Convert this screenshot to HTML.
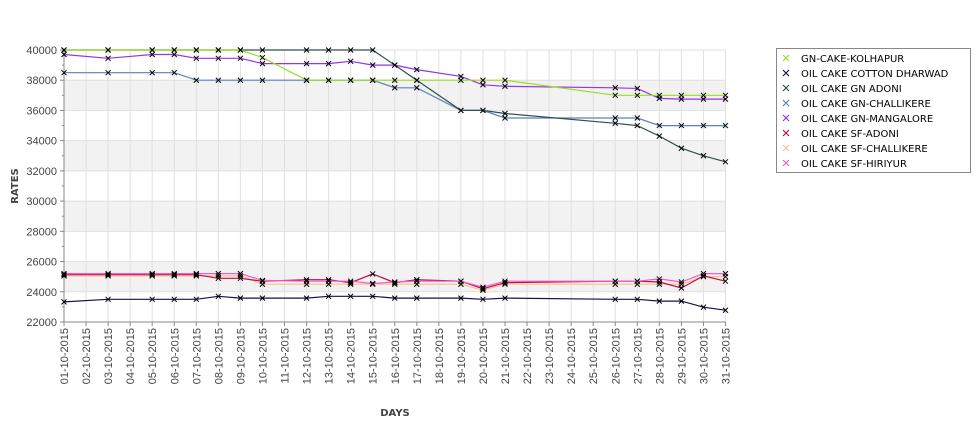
<!DOCTYPE html>
<html><head><meta charset="utf-8"><style>
body{margin:0;background:#fff;}
svg{display:block;font-family:"Liberation Sans",sans-serif;}
</style></head><body>
<svg id="c" width="975" height="429" xmlns="http://www.w3.org/2000/svg"></svg>
<script>
const S=document.getElementById('c');
let h='';
const X0=64,X1=725.5,dx=(X1-X0)/30;
const Y=v=>50+(40000-v)*272/18000;
const X=d=>X0+d*dx;
[[38000,36000],[34000,32000],[30000,28000],[26000,24000]].forEach(b=>{h+=`<rect x="${X0}" y="${Y(b[0])}" width="${X1-X0}" height="${Y(b[1])-Y(b[0])}" fill="#f2f2f2"/>`;});
for(let v=22000;v<=40000;v+=2000){h+=`<line x1="${X0}" x2="${X1}" y1="${Y(v)}" y2="${Y(v)}" stroke="#e0e0e0"/>`;
h+=`<text x="57" y="${Y(v)+4}" font-size="11" fill="#444" text-anchor="end">${v}</text>`;h+=`<line x1="60" x2="64" y1="${Y(v)}" y2="${Y(v)}" stroke="#888"/>`;}
for(let v=23000;v<40000;v+=2000)h+=`<line x1="62" x2="64" y1="${Y(v)}" y2="${Y(v)}" stroke="#888"/>`;
for(let d=0;d<=30;d++){const x=X(d);h+=`<line x1="${x}" x2="${x}" y1="50" y2="322" stroke="#e0e0e0"/>`;
h+=`<line x1="${x}" x2="${x}" y1="322" y2="326" stroke="#888"/>`;
const lab=String(d+1).padStart(2,'0')+'-10-2015';
h+=`<text transform="translate(${x+4},328) rotate(-90)" font-size="11" fill="#444" text-anchor="end">${lab}</text>`;}
h+=`<line x1="${X0}" x2="${X0}" y1="50" y2="322" stroke="#888"/><line x1="${X0}" x2="${X1}" y1="322" y2="322" stroke="#888"/>`;
const days=[0,2,4,5,6,7,8,9,11,12,13,14,15,16,18,19,20,25,26,27,28,29,30];
const ser=[
['GN-CAKE-KOLHAPUR','#99dd22',[40000,40000,40000,40000,40000,40000,40000,39500,38000,38000,38000,38000,38000,38000,38000,38000,38000,37000,37000,37000,37000,37000,37000]],
['OIL CAKE COTTON DHARWAD','#1a0f4f',[23330,23500,23500,23500,23500,23700,23580,23580,23580,23700,23700,23700,23580,23580,23580,23500,23580,23500,23500,23380,23380,22980,22780]],
['OIL CAKE GN ADONI','#2e5050',[40000,40000,40000,40000,40000,40000,40000,40000,40000,40000,40000,40000,39000,38000,36000,36000,35800,35150,35000,34300,33500,33000,32600]],
['OIL CAKE GN-CHALLIKERE','#5b7fbf',[38500,38500,38500,38500,38000,38000,38000,38000,38000,38000,38000,38000,37500,37500,36000,36000,35500,35500,35500,35000,35000,35000,35000]],
['OIL CAKE GN-MANGALORE','#9933dd',[39700,39450,39700,39700,39450,39450,39450,39100,39100,39100,39250,39000,39000,38700,38250,37700,37600,37500,37450,36800,36750,36750,36750]],
['OIL CAKE SF-ADONI','#bb1144',[25130,25130,25130,25130,25130,24890,24890,24700,24800,24800,24600,25180,24600,24800,24700,24200,24600,24700,24700,24650,24250,25050,24700]],
['OIL CAKE SF-CHALLIKERE','#f5c090',[25050,25050,25050,25050,25050,25050,25050,24500,24500,24500,24500,24500,24500,24500,24500,24100,24500,24500,24500,24500,24500,25000,25000]],
['OIL CAKE SF-HIRIYUR','#ff55cc',[25200,25200,25200,25200,25200,25200,25200,24750,24700,24700,24700,24550,24650,24700,24700,24300,24700,24700,24700,24850,24650,25200,25200]]
];
const order=[6,5,7,1,3,4,2,0];
const mk=[];
order.forEach(i=>{const s=ser[i];let p=days.map((d,k)=>`${X(d).toFixed(1)},${Y(s[2][k]).toFixed(1)}`).join(' ');
h+=`<polyline points="${p}" fill="none" stroke="${s[1]}" stroke-width="1.2"/>`;
days.forEach((d,k)=>mk.push([X(d),Y(s[2][k])]));});
mk.forEach(([x,y])=>{h+=`<path d="M${x-2.5},${y-2.5}L${x+2.5},${y+2.5}M${x-2.5},${y+2.5}L${x+2.5},${y-2.5}" stroke="#000" stroke-width="1"/>`;});
h+=`<text transform="translate(18,186) rotate(-90)" font-size="10" font-weight="bold" fill="#444" text-anchor="middle" font-family="DejaVu Sans">RATES</text>`;
h+=`<text x="395" y="416" font-size="10" font-weight="bold" fill="#444" text-anchor="middle" font-family="DejaVu Sans">DAYS</text>`;
h+=`<rect x="776.5" y="48.5" width="194" height="124" fill="#fff" stroke="#888"/>`;
ser.forEach((s,i)=>{const y=58+i*15;
h+=`<path d="M${783},${y-3}L${789},${y+3}M${783},${y+3}L${789},${y-3}" stroke="${s[1]}" stroke-width="1.2"/>`;
h+=`<text x="801" y="${y+4}" font-size="10" fill="#000" font-family="DejaVu Sans">${s[0]}</text>`;});
S.innerHTML=h;
</script>
</body></html>
